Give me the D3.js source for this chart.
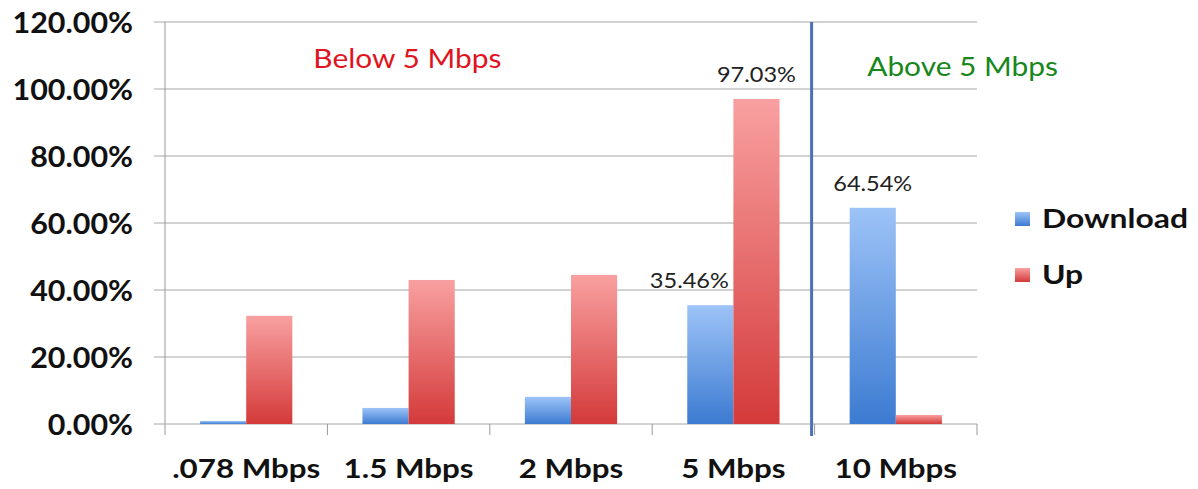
<!DOCTYPE html>
<html>
<head>
<meta charset="utf-8">
<script src="https://cdn.jsdelivr.net/npm/d3@7"></script>
<style>
  body { margin: 0; background: #fff; }
  svg text { font-family: Lato, "Open Sans", sans-serif; }
</style>
</head>
<body>
<div id="chart"></div>
<script>
// data
var categories = [".078 Mbps", "1.5 Mbps", "2 Mbps", "5 Mbps", "10 Mbps"];
var series = ["Download", "Up"];
var download = [0.009, 0.048, 0.081, 0.3546, 0.6454];
var up = [0.323, 0.430, 0.445, 0.9703, 0.027];
var yTicks = [0, 0.2, 0.4, 0.6, 0.8, 1.0, 1.2];
// labelled bars: [category index, series, text]
var labels = [[3, "Download", "35.46%"], [3, "Up", "97.03%"], [4, "Download", "64.54%"]];

var width = 1198, height = 489;
var margin = {top: 22, right: 221, bottom: 65, left: 165};
var w = width - margin.left - margin.right,
    h = height - margin.top - margin.bottom;

// the original text is a bit wide, stretch it horizontally
function stretch(sel, s) {
  sel.attr("transform", function() {
      var tx = +this.getAttribute("x") || 0, ty = +this.getAttribute("y") || 0;
      return "translate(" + tx + "," + ty + ") scale(" + s + ",1)";
    })
    .attr("x", 0)
    .attr("y", 0);
}

var svg = d3.select("#chart")
  .append("svg")
    .attr("width", width)
    .attr("height", height);

// gradients
var defs = svg.append("defs");
function grad(id, top, bottom) {
  var g = defs.append("linearGradient")
    .attr("id", id)
    .attr("x1", 0).attr("y1", 0).attr("x2", 0).attr("y2", 1);
  g.append("stop").attr("offset", "0%").attr("stop-color", top);
  g.append("stop").attr("offset", "100%").attr("stop-color", bottom);
}
grad("gDownload", "#9dc3f7", "#3c7bd2");
grad("gUp", "#f9a0a0", "#d43a3a");

var vis = svg.append("g")
  .attr("transform", "translate(" + margin.left + "," + margin.top + ")");

var x0 = d3.scaleBand()
  .domain(categories)
  .range([0, w])
  .padding(0);
var x1 = d3.scaleBand()
  .domain(series)
  .range([0, x0.bandwidth()])
  .paddingInner(0)
  .paddingOuter(0.76);
var y = d3.scaleLinear()
  .domain([0, 1.2])
  .range([h, 0]);

// gridlines
vis.append("g")
  .selectAll("line")
  .data(yTicks)
  .enter()
  .append("line")
    .attr("x1", -11)
    .attr("x2", w)
    .attr("y1", function(d) { return y(d); })
    .attr("y2", function(d) { return y(d); })
    .style("stroke", "#a6a6a6")
    .style("stroke-width", 1);

// y axis
var yax = d3.axisLeft(y)
  .tickValues(yTicks)
  .tickFormat(d3.format(".2%"))
  .tickSize(0)
  .tickPadding(32);
var yg = vis.append("g").call(yax);
yg.select(".domain").remove();
yg.selectAll("text")
  .style("font-size", "29px")
  .style("font-weight", "bold")
  .style("fill", "#111")
  .attr("dy", "0.36em")
  .call(stretch, 1.05);
vis.append("line")
  .attr("x1", 0).attr("x2", 0)
  .attr("y1", 0).attr("y2", h + 11)
  .style("stroke", "#999");

// x axis ticks at category boundaries
vis.append("g")
  .selectAll("line")
  .data(categories.slice(1).concat([null]))
  .enter()
  .append("line")
    .attr("x1", function(d) { return d ? x0(d) : w; })
    .attr("x2", function(d) { return d ? x0(d) : w; })
    .attr("y1", h)
    .attr("y2", h + 11)
    .style("stroke", "#999");

vis.append("g")
  .selectAll("text")
  .data(categories)
  .enter()
  .append("text")
    .text(function(d) { return d; })
    .attr("x", function(d) { return x0(d) + x0.bandwidth() / 2; })
    .attr("y", h + 54)
    .attr("text-anchor", "middle")
    .style("font-size", "27px")
    .style("font-weight", "bold")
    .style("fill", "#111")
    .call(stretch, 1.16);

// bars
var rows = categories.map(function(c, i) {
  return {cat: c, values: [{s: "Download", v: download[i]}, {s: "Up", v: up[i]}]};
});
var groups = vis.append("g")
  .selectAll("g")
  .data(rows)
  .enter()
  .append("g")
    .attr("transform", function(d) { return "translate(" + x0(d.cat) + ",0)"; });
groups.selectAll("rect")
  .data(function(d) { return d.values; })
  .enter()
  .append("rect")
    .attr("x", function(d) { return x1(d.s); })
    .attr("width", x1.bandwidth())
    .attr("y", function(d) { return y(d.v); })
    .attr("height", function(d) { return h - y(d.v); })
    .style("fill", function(d) { return "url(#g" + d.s + ")"; });

// data labels
var labelShift = {"35.46%": -21, "97.03%": 0, "64.54%": 0};
vis.append("g")
  .selectAll("text")
  .data(labels)
  .enter()
  .append("text")
    .text(function(d) { return d[2]; })
    .attr("x", function(d) { return x0(categories[d[0]]) + x1(d[1]) + x1.bandwidth() / 2 + labelShift[d[2]]; })
    .attr("y", function(d) {
      var v = d[1] == "Up" ? up[d[0]] : download[d[0]];
      return y(v) - 17;
    })
    .attr("text-anchor", "middle")
    .style("font-size", "22px")
    .style("fill", "#222")
    .call(stretch, 1.07);

// divider between below / above 5 Mbps
var divX = x0(categories[4]) - 3;
vis.append("line")
  .attr("x1", divX).attr("x2", divX)
  .attr("y1", 0).attr("y2", h + 12)
  .style("stroke", "#4a72b5")
  .style("stroke-width", 3);

vis.append("text")
  .text("Below 5 Mbps")
  .attr("x", x0(categories[1]) + 80)
  .attr("y", 46)
  .attr("text-anchor", "middle")
  .style("font-size", "26px")
  .style("fill", "#e0141e")
  .call(stretch, 1.15);
vis.append("text")
  .text("Above 5 Mbps")
  .attr("x", x0(categories[4]) + 148)
  .attr("y", 54)
  .attr("text-anchor", "middle")
  .style("font-size", "26px")
  .style("fill", "#18871c")
  .call(stretch, 1.15);

// legend
var legend = svg.append("g")
  .attr("transform", "translate(1015,200)");
var li = legend.selectAll("g")
  .data(series)
  .enter()
  .append("g")
    .attr("transform", function(d, i) { return "translate(0," + (i * 56) + ")"; });
li.append("rect")
  .attr("x", 0).attr("y", 12)
  .attr("width", 15).attr("height", 14)
  .style("fill", function(d) { return "url(#g" + d + ")"; });
li.append("text")
  .text(function(d) { return d; })
  .attr("x", 27)
  .attr("y", 28)
  .style("font-size", "27px")
  .style("font-weight", "bold")
  .style("fill", "#111")
  .call(stretch, 1.18);
</script>
</body>
</html>
